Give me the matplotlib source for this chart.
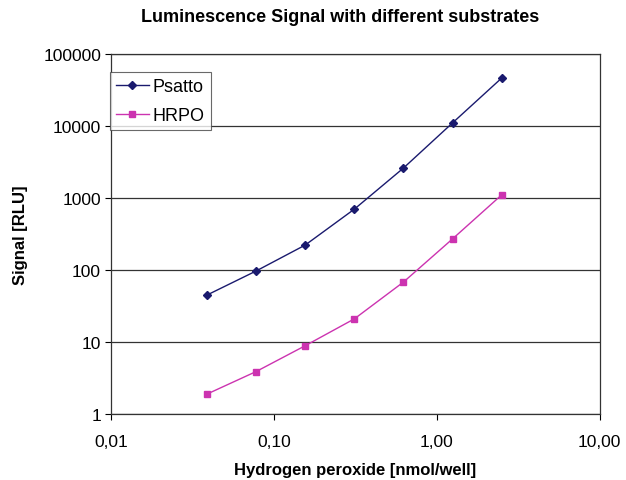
import matplotlib
matplotlib.use("Agg")
import matplotlib.pyplot as plt
from matplotlib.ticker import FixedLocator, FixedFormatter, NullLocator

plt.rcParams['font.family'] = ['Liberation Sans', 'DejaVu Sans']

x_vals = [0.039, 0.078, 0.156, 0.3125, 0.625, 1.25, 2.5]
psatto = [45, 97, 222, 700, 2600, 11000, 46000]
hrpo = [1.9, 3.9, 8.9, 21, 68, 270, 1100]

x_ticks = [0.01, 0.1, 1, 10]
x_tick_labels = ["0,01", "0,10", "1,00", "10,00"]
y_ticks = [1, 10, 100, 1000, 10000, 100000]
y_tick_labels = ["1", "10", "100", "1000", "10000", "100000"]

fig = plt.figure(figsize=(6.26, 4.81), dpi=100)
ax = fig.add_axes([0.177, 0.137, 0.781, 0.749])

ax.plot(x_vals, psatto, color='#1a1a6e', marker='D', markersize=4.5, lw=1.0, label='Psatto')
ax.plot(x_vals, hrpo, color='#cc33b0', marker='s', markersize=5, lw=1.0, label='HRPO')

ax.set_xscale('log')
ax.set_yscale('log')
ax.set_xlim(0.01, 10)
ax.set_ylim(1, 100000)
ax.xaxis.set_major_locator(FixedLocator(x_ticks))
ax.xaxis.set_major_formatter(FixedFormatter(x_tick_labels))
ax.xaxis.set_minor_locator(NullLocator())
ax.yaxis.set_major_locator(FixedLocator(y_ticks))
ax.yaxis.set_major_formatter(FixedFormatter(y_tick_labels))
ax.yaxis.set_minor_locator(NullLocator())
ax.tick_params(axis='both', direction='out', length=4, width=0.8, labelsize=12.5, colors='black')
ax.tick_params(axis='x', pad=10)
ax.tick_params(axis='y', pad=3)
ax.yaxis.grid(True, color='#333333', lw=0.9)
ax.set_axisbelow(True)
for s in ax.spines.values():
    s.set_color('#333333')
    s.set_linewidth(0.9)

ax.set_title('Luminescence Signal with different substrates', fontsize=13, fontweight='bold',
             pad=24, x=0.47)
ax.set_xlabel('Hydrogen peroxide [nmol/well]', fontsize=12, fontweight='bold', labelpad=10)
ax.set_ylabel('Signal [RLU]', fontsize=12, fontweight='bold', labelpad=11)

leg = ax.legend(loc='upper left', bbox_to_anchor=(-0.002, 0.95), fontsize=13, frameon=True,
                fancybox=False, edgecolor='#444444', handlelength=1.8, handletextpad=0.2,
                borderpad=0.35, labelspacing=0.65, borderaxespad=0)
leg.get_frame().set_linewidth(0.8)

fig.savefig('out.png', dpi=100)
